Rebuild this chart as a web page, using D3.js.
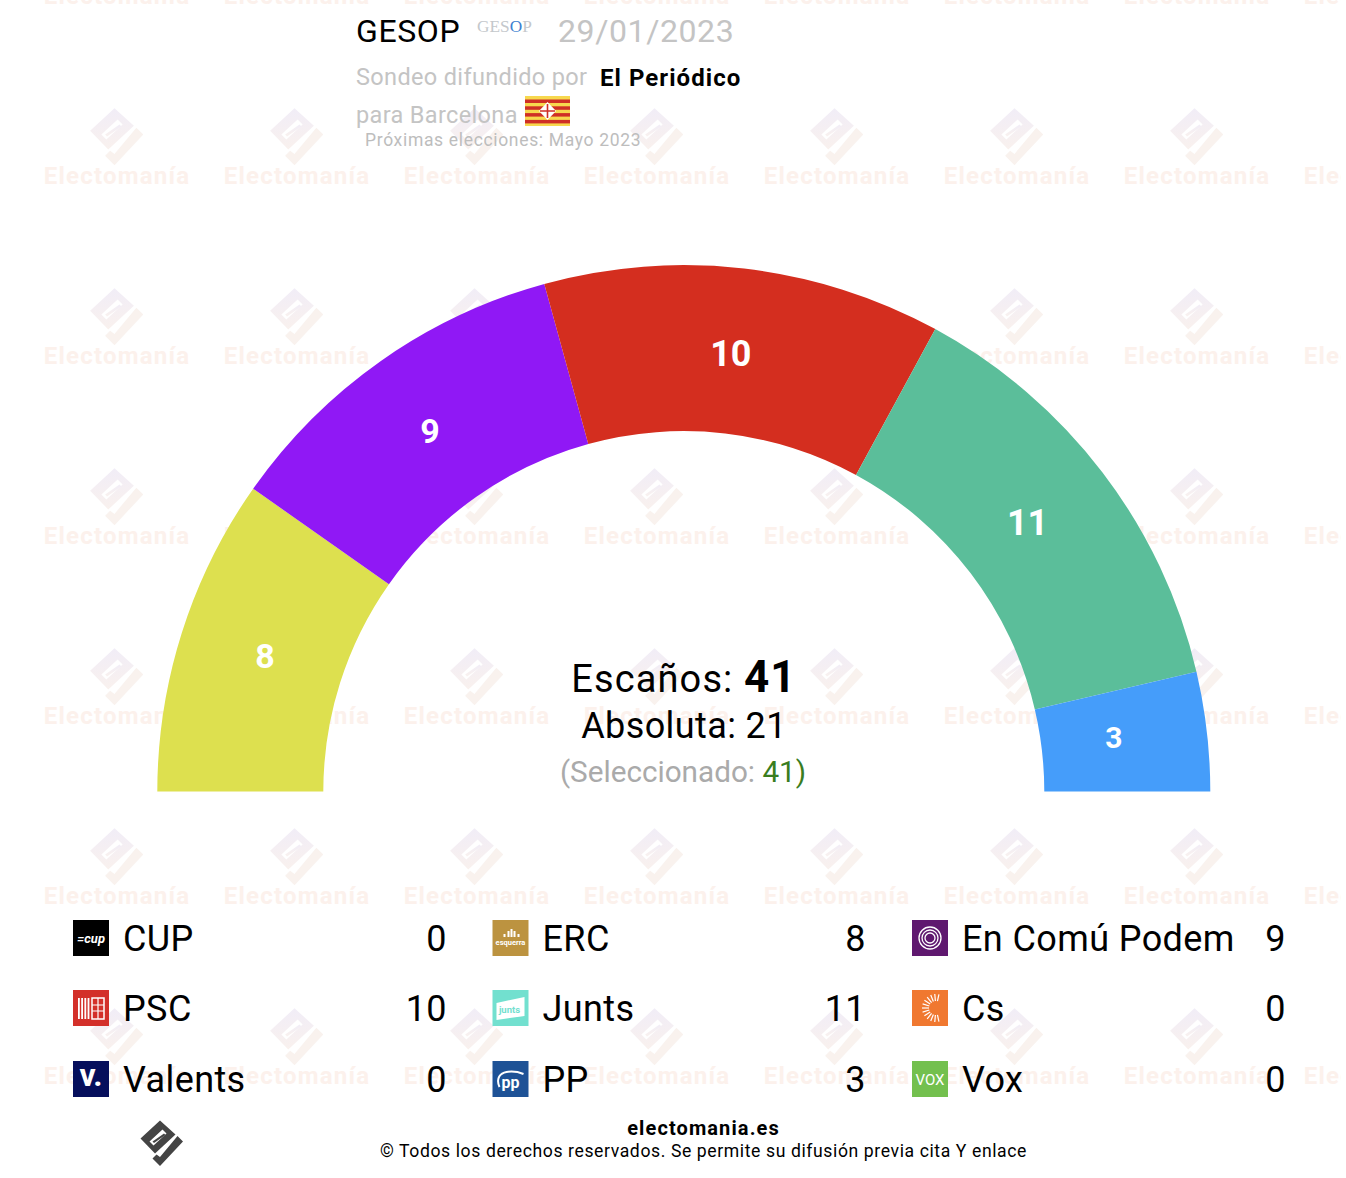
<!DOCTYPE html>
<html>
<head>
<meta charset="utf-8">
<script src="https://cdn.jsdelivr.net/npm/d3@7"></script>
<style>
html, body { margin: 0; padding: 0; background: #fff; }
svg { display: block; }
text { font-family: Roboto, sans-serif; }
</style>
</head>
<body>
<div id="chart"></div>
<script>
// parties, same order as the legend (read left to right)
var parties = ["CUP", "ERC", "En Comú Podem", "PSC", "Junts", "Cs", "Valents", "PP", "Vox"];
var seats = [0, 8, 9, 10, 11, 0, 0, 3, 0];
var logoColors = ["#000000", "#bc9340", "#5f186f", "#d3302a", "#72e0cf", "#f07830", "#060f5c", "#1e5296", "#73c04e"];

// order of the hemicycle, left to right
var arcParties = ["ERC", "En Comú Podem", "PSC", "Junts", "PP"];
var arcSeats = [8, 9, 10, 11, 3];
var arcColors = ["#dde04f", "#9018f5", "#d42e1f", "#5bbe9a", "#459dfa"];
var arcLabelSizes = [34, 34, 36, 36, 30];

var pollster = "GESOP";
var pollDate = "29/01/2023";
var media = "El Periódico";
var total = 41;
var majority = 21;
var selected = 41;

var width = 1346, height = 1178;
var cx = 683.8, cy = 791.6;

var svg = d3.select("#chart").append("svg").attr("width", width).attr("height", height);
var defs = svg.append("defs");

var grad = defs.append("linearGradient").attr("id", "wmGrad")
	.attr("x1", "0").attr("y1", "0").attr("x2", "0").attr("y2", "1");
grad.append("stop").attr("offset", "0").attr("stop-color", "#f1edf7");
grad.append("stop").attr("offset", "1").attr("stop-color", "#f9f1ee");

defs.append("clipPath").attr("id", "wmClip").append("rect")
	.attr("width", 1341).attr("height", height);

// the electomania mark, drawn around 0,0
function drawMark(g, fill, hookFill) {
	g.append("path").attr("fill", fill).attr("fill-rule", "evenodd")
		.attr("d", "M-2,-23L13.5,-9L-7,10L-21.5,-5Z M4.5,-10L0.5,-14L-12.5,-2L-8.5,2Z");
	g.append("path").attr("fill", fill)
		.attr("d", "M2,-10L3.5,-8.5L-8,-0.5L-9.5,-2Z");
	g.append("path").attr("fill", hookFill)
		.attr("d", "M15.5,-7.5L21,-2L-2,22.5L-9.5,15L-5.5,11L-2,13.5Z");
}

/**************************
 * Watermark
 **************************/
var wm = svg.append("g").attr("clip-path", "url(#wmClip)");
d3.range(-43, height, 180).forEach(function(y) {
	d3.range(117, width + 100, 180).forEach(function(x) {
		var tile = wm.append("g").attr("transform", "translate(" + x + "," + y + ")");
		var mark = tile.append("g").attr("transform", "scale(1.25)");
		drawMark(mark, "url(#wmGrad)", "#f9f2ee");
		tile.append("text").attr("y", 47).attr("text-anchor", "middle")
			.attr("font-size", 24).attr("font-weight", 700).attr("letter-spacing", 1.2).attr("fill", "#fcf1ec")
			.text("Electomanía");
	});
});

/**************************
 * Header
 **************************/
var head = svg.append("g");
head.append("text").attr("x", 356).attr("y", 42).attr("font-size", 32).attr("letter-spacing", 0.6).attr("fill", "#000").text(pollster);
var gesopLogo = head.append("text").attr("x", 477).attr("y", 32).attr("font-size", 17.3)
	.style("font-family", "'Liberation Serif'").attr("fill", "#c4c8cc");
gesopLogo.append("tspan").text("GES");
gesopLogo.append("tspan").attr("fill", "#3f7fd0").text("O");
gesopLogo.append("tspan").text("P");
head.append("text").attr("x", 558).attr("y", 42).attr("font-size", 32).attr("letter-spacing", 0.6).attr("fill", "#c4c4c4").text(pollDate);
head.append("text").attr("x", 356).attr("y", 85).attr("font-size", 23.5).attr("letter-spacing", 0.35).attr("fill", "#c4c4c4").text("Sondeo difundido por");
head.append("text").attr("x", 600).attr("y", 85.5).attr("font-size", 24).attr("letter-spacing", 1.05).attr("font-weight", 700).attr("fill", "#000").text(media);
head.append("text").attr("x", 356).attr("y", 123).attr("font-size", 23.5).attr("letter-spacing", 0.35).attr("fill", "#c4c4c4").text("para Barcelona");
head.append("text").attr("x", 365).attr("y", 146).attr("font-size", 17.5).attr("letter-spacing", 0.67).attr("fill", "#bdbdbd").text("Próximas elecciones: Mayo 2023");

// Barcelona flag
var flag = head.append("g").attr("transform", "translate(525,96)");
flag.append("rect").attr("width", 45).attr("height", 30).attr("fill", "#f7d84e");
d3.range(4).forEach(function(i) {
	flag.append("rect").attr("y", 3.5 + i * 6.8).attr("width", 45).attr("height", 3.5).attr("fill", "#cf2f26");
});
flag.append("path").attr("fill", "#fff").attr("d", "M22.5,6L31,15L22.5,24L14,15Z");
flag.append("path").attr("stroke", "#cf2f26").attr("stroke-width", 1.6)
	.attr("d", "M22.5,8V22M15,15H30");

/**************************
 * Hemicycle
 **************************/
var pie = d3.pie().sort(null).startAngle(-Math.PI / 2).endAngle(Math.PI / 2);
var arc = d3.arc().innerRadius(360.5).outerRadius(526.5);
var labelArc = d3.arc().innerRadius(436).outerRadius(436);
var arcs = pie(arcSeats);

var gauge = svg.append("g").attr("transform", "translate(" + cx + "," + cy + ")");
gauge.selectAll("path").data(arcs).enter().append("path")
	.attr("d", arc)
	.attr("fill", function(d, i) { return arcColors[i]; });

gauge.selectAll("text").data(arcs).enter().append("text")
	.attr("transform", function(d) {
		var c = labelArc.centroid(d);
		return "translate(" + (c[0] - 3) + "," + (c[1] - 4) + ")";
	})
	.attr("text-anchor", "middle").attr("dominant-baseline", "central")
	.attr("font-weight", 700).attr("fill", "#fff")
	.attr("font-size", function(d, i) { return arcLabelSizes[i]; })
	.text(function(d) { return d.value; });

var t1 = svg.append("text").attr("x", 684).attr("y", 692).attr("text-anchor", "middle").attr("font-size", 38).attr("letter-spacing", 1.1).attr("fill", "#000");
t1.append("tspan").text("Escaños: ");
t1.append("tspan").attr("font-weight", 700).attr("font-size", 44).text(total);
svg.append("text").attr("x", 684).attr("y", 738).attr("text-anchor", "middle").attr("font-size", 36).attr("letter-spacing", 0.4).attr("fill", "#000")
	.text("Absoluta: " + majority);
var t3 = svg.append("text").attr("x", 683).attr("y", 782).attr("text-anchor", "middle").attr("font-size", 29.7).attr("fill", "#aaa");
t3.append("tspan").text("(Seleccionado: ");
t3.append("tspan").attr("fill", "#3a7d1f").text(selected);
t3.append("tspan").attr("fill", "#3a7d1f").text(")");

/**************************
 * Legend
 **************************/
var colX = d3.scaleOrdinal().domain([0, 1, 2]).range([73, 492.5, 912]);
var colEnd = d3.scaleOrdinal().domain([0, 1, 2]).range([447, 866, 1286]);
var rowY = d3.scaleOrdinal().domain([0, 1, 2]).range([920, 990, 1061]);

var logoText = {"CUP": "=cup", "ERC": "esquerra", "PP": "pp", "Vox": "VOX", "Valents": "v."};
var logoSize = {"CUP": 13, "ERC": 7.5, "PP": 16, "Vox": 15, "Valents": 32};
var logoY = {"CUP": 18, "ERC": 22, "PP": 21, "Vox": 19, "Valents": 14};

var items = svg.selectAll("g.item").data(parties).enter().append("g").attr("class", "item")
	.attr("transform", function(d, i) {
		return "translate(" + colX(i % 3) + "," + rowY(Math.floor(i / 3)) + ")";
	});

items.append("rect").attr("width", 36).attr("height", 36)
	.attr("fill", function(d, i) { return logoColors[i]; });

items.filter(function(d) { return logoText[d]; }).append("text")
	.attr("x", 18)
	.attr("y", function(d) { return logoY[d]; })
	.attr("text-anchor", "middle").attr("dominant-baseline", "central")
	.attr("font-weight", function(d) { return d == "Vox" ? 400 : 700; })
	.attr("font-style", function(d) { return d == "CUP" ? "italic" : "normal"; })
	.attr("fill", "#fff")
	.attr("font-size", function(d) { return logoSize[d]; })
	.text(function(d) { return logoText[d]; });

// the logos that are not just lettering
var erc = items.filter(function(d) { return d == "ERC"; });
[[11, 3], [15, 6], [18, 8], [21, 6], [25, 3]].forEach(function(b) {
	erc.append("rect").attr("x", b[0]).attr("y", 17 - b[1]).attr("width", 2).attr("height", b[1]).attr("fill", "#fff");
});
var junts = items.filter(function(d) { return d == "Junts"; });
junts.append("path").attr("fill", "#fff").attr("d", "M4,13L32,7V26L4,30Z");
junts.append("text").attr("x", 17).attr("y", 23).attr("text-anchor", "middle")
	.attr("font-size", 9.5).attr("font-weight", 700).attr("fill", "#72e0cf").text("junts");
var pp = items.filter(function(d) { return d == "PP"; });
pp.append("path").attr("fill", "none").attr("stroke", "#fff").attr("stroke-width", 2)
	.attr("d", "M7,26C3,17 8,12 14,11C20,10 26,11 31,13");
var comu = items.filter(function(d) { return d == "En Comú Podem"; });
[5, 8, 11].forEach(function(r) {
	comu.append("circle").attr("cx", 18).attr("cy", 18).attr("r", r)
		.attr("fill", "none").attr("stroke", "#fff").attr("stroke-width", 1.3);
});
var cs = items.filter(function(d) { return d == "Cs"; });
d3.range(-6, 7).forEach(function(i) {
	var a = (180 + i * 17) * Math.PI / 180;
	cs.append("line")
		.attr("x1", 24 + 7 * Math.cos(a)).attr("y1", 18 + 7 * Math.sin(a))
		.attr("x2", 24 + 14 * Math.cos(a)).attr("y2", 18 + 14 * Math.sin(a))
		.attr("stroke", "#fff").attr("stroke-width", 1.2);
});
var psc = items.filter(function(d) { return d == "PSC"; });
d3.range(4).forEach(function(i) {
	psc.append("rect").attr("x", 5 + i * 3.2).attr("y", 8).attr("width", 1.8).attr("height", 21).attr("fill", "#fff");
});
psc.append("rect").attr("x", 19).attr("y", 8).attr("width", 12).attr("height", 21)
	.attr("fill", "none").attr("stroke", "#fff").attr("stroke-width", 1.5);
psc.append("path").attr("stroke", "#fff").attr("stroke-width", 1.2).attr("d", "M19,15H31M19,21H31M25,8V29");

items.append("text").attr("x", 51).attr("y", 31).attr("font-size", 36).attr("letter-spacing", 0.4).attr("fill", "#000")
	.attr("dx", -1)
	.text(function(d) { return d; });
items.append("text")
	.attr("x", function(d, i) { return colEnd(i % 3) - colX(i % 3); })
	.attr("y", 31).attr("text-anchor", "end").attr("font-size", 36).attr("letter-spacing", 0.4).attr("fill", "#000")
	.text(function(d, i) { return seats[i]; });

/**************************
 * Footer
 **************************/
var foot = svg.append("g").attr("transform", "translate(162,1143.5)");
drawMark(foot, "#444", "#444");
svg.append("text").attr("x", 703.5).attr("y", 1135).attr("text-anchor", "middle").attr("font-size", 20).attr("font-weight", 700).attr("letter-spacing", 1.1).attr("fill", "#000")
	.text("electomania.es");
svg.append("text").attr("x", 703.5).attr("y", 1157).attr("text-anchor", "middle").attr("font-size", 17.6).attr("letter-spacing", 0.6).attr("fill", "#000")
	.text("© Todos los derechos reservados. Se permite su difusión previa cita Y enlace");
</script>
</body>
</html>
